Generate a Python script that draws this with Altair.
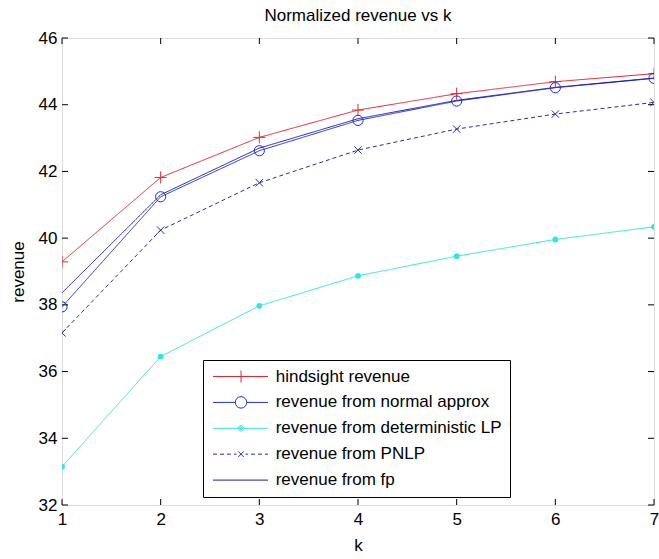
import altair as alt
import pandas as pd

# k values and revenue series
k_values = [1, 2, 3, 4, 5, 6, 7]
hindsight = [39.29, 41.82, 43.02, 43.84, 44.33, 44.69, 44.93]
normal_approx = [37.94, 41.24, 42.62, 43.53, 44.11, 44.51, 44.79]
deterministic_lp = [33.15, 36.45, 37.97, 38.87, 39.46, 39.96, 40.34]
pnlp = [37.16, 40.24, 41.66, 42.64, 43.27, 43.72, 44.07]
fp = [38.36, 41.30, 42.70, 43.58, 44.13, 44.52, 44.80]

series_names = [
    "hindsight revenue",
    "revenue from normal approx",
    "revenue from deterministic LP",
    "revenue from PNLP",
    "revenue from fp",
]
series_values = [hindsight, normal_approx, deterministic_lp, pnlp, fp]
series_colors = ["#e2262e", "#1f2fd0", "#2ee6e6", "#2b2ba0", "#1a1ab0"]
series_dashes = [[1, 0], [1, 0], [1, 0], [4, 3], [1, 0]]

k_ticks = [1, 2, 3, 4, 5, 6, 7]
revenue_ticks = [32, 34, 36, 38, 40, 42, 44, 46]

W, H = 592, 467
FONT = "Liberation Sans"
FS = 17

rows = []
for name, vals in zip(series_names, series_values):
    for k, v in zip(k_values, vals):
        rows.append({"k": k, "revenue": v, "series": name})
df = pd.DataFrame(rows)

x_scale = alt.Scale(domain=[1, 7], nice=False, zero=False)
y_scale = alt.Scale(domain=[32, 46], nice=False, zero=False)

x_axis = alt.Axis(
    values=k_ticks, ticks=False, tickSize=0, domain=False, grid=False,
    labelFont=FONT, labelFontSize=FS, labelColor="black", labelPadding=6,
    labelFlush=False, labelOverlap=False,
    title="k", titleFont=FONT, titleFontSize=FS, titleFontWeight="normal",
    titleColor="black", titleY=45, titleBaseline="alphabetic",
)
y_axis = alt.Axis(
    values=revenue_ticks, ticks=False, tickSize=0, domain=False, grid=False,
    labelFont=FONT, labelFontSize=FS, labelColor="black", labelPadding=5,
    labelFlush=False, labelOverlap=False,
    title="revenue", titleFont=FONT, titleFontSize=FS, titleFontWeight="normal",
    titleColor="black", titleX=-39, titleY=H / 2, titleAngle=-90,
    titleBaseline="alphabetic", titleAlign="center",
)
x_enc = alt.X("k:Q", scale=x_scale, axis=x_axis)
y_enc = alt.Y("revenue:Q", scale=y_scale, axis=y_axis)

color_scale = alt.Scale(domain=series_names, range=series_colors)

base = alt.Chart(df)

lines = base.mark_line(strokeWidth=1, clip=True).encode(
    x=x_enc,
    y=y_enc,
    color=alt.Color("series:N", scale=color_scale, legend=None),
    strokeDash=alt.StrokeDash(
        "series:N", scale=alt.Scale(domain=series_names, range=series_dashes), legend=None
    ),
)

# plot markers: plus, open circle, small x
marker_series = [series_names[0], series_names[1], series_names[3]]
marker_paths = [
    "M-1,0H1M0,-1V1",
    "M-0.85,0A0.85,0.85 0 1,1 0.85,0A0.85,0.85 0 1,1 -0.85,0",
    "M-0.62,-0.62L0.62,0.62M-0.62,0.62L0.62,-0.62",
]
markers = base.transform_filter(
    alt.FieldOneOfPredicate(field="series", oneOf=marker_series)
).mark_point(filled=False, size=144, strokeWidth=1, opacity=1, clip=True).encode(
    x=x_enc,
    y=y_enc,
    color=alt.Color("series:N", scale=color_scale, legend=None),
    shape=alt.Shape(
        "series:N", scale=alt.Scale(domain=marker_series, range=marker_paths), legend=None
    ),
)

dots = base.transform_filter(
    alt.datum.series == series_names[2]
).mark_circle(size=34, opacity=1, color=series_colors[2], clip=True).encode(
    x=x_enc, y=y_enc
)

# legend entries: line segment with marker, drawn as symbol paths
legend_paths = [
    "M-5.6,0H5.4M0,-1.2V1.2",
    "M-5.6,0H-1.15M1.15,0H5.4M-1.15,0A1.15,1.15 0 1,1 1.15,0A1.15,1.15 0 1,1 -1.15,0",
    "M-5.6,0H5.4M-0.55,0A0.55,0.55 0 1,1 0.55,0A0.55,0.55 0 1,1 -0.55,0"
    "M-0.28,0A0.28,0.28 0 1,1 0.28,0A0.28,0.28 0 1,1 -0.28,0",
    "M-5.6,0H-4.8M-4.2,0H-3.4M-2.8,0H-2.0M-1.4,0H-0.9M-0.55,-0.55L0.55,0.55"
    "M-0.55,0.55L0.55,-0.55M0.9,0H1.4M2.0,0H2.8M3.4,0H4.2M4.8,0H5.4",
    "M-5.6,0H5.4",
]
legend_df = pd.DataFrame({"label": series_names, "k": [1] * 5, "revenue": [32] * 5})
legend_props = dict(
    title=None,
    orient="none",
    legendX=141,
    legendY=322,
    padding=8,
    strokeColor="black",
    fillColor="white",
    symbolSize=100,
    symbolStrokeWidth=1,
    symbolOpacity=1,
    symbolOffset=21.5,
    labelOffset=26.2,
    rowPadding=7.9,
    labelFont=FONT,
    labelFontSize=FS,
    labelColor="black",
    labelLimit=400,
    cornerRadius=0,
)
legend_layer = alt.Chart(legend_df).mark_point(filled=False, opacity=0).encode(
    x=x_enc,
    y=y_enc,
    color=alt.Color(
        "label:N",
        scale=alt.Scale(domain=series_names, range=series_colors),
        legend=alt.Legend(**legend_props),
    ),
    shape=alt.Shape(
        "label:N",
        scale=alt.Scale(domain=series_names, range=legend_paths),
        legend=alt.Legend(**legend_props),
    ),
)

# inward tick marks on all four sides of the box
kt = alt.Chart(pd.DataFrame({"k": k_ticks}))
rt = alt.Chart(pd.DataFrame({"revenue": revenue_ticks}))
tick_style = dict(color="black", strokeWidth=1)
x_bottom = kt.mark_rule(**tick_style).encode(
    x=x_enc, y=alt.value(H), y2=alt.value(H - 6)
)
x_top = kt.mark_rule(**tick_style).encode(
    x=x_enc, y=alt.value(0), y2=alt.value(6)
)
y_left = rt.mark_rule(**tick_style).encode(
    y=y_enc, x=alt.value(0), x2=alt.value(6)
)
y_right = rt.mark_rule(**tick_style).encode(
    y=y_enc, x=alt.value(W), x2=alt.value(W - 6)
)

chart = alt.layer(
    lines, markers, dots, x_bottom, x_top, y_left, y_right, legend_layer
).resolve_scale(
    color="independent", shape="independent", strokeDash="independent"
).properties(
    width=W,
    height=H,
    autosize=alt.AutoSizeParams(type="none"),
    padding={"left": 62, "top": 38, "right": 5, "bottom": 54},
    title=alt.Title(
        "Normalized revenue vs k",
        font=FONT, fontSize=FS, fontWeight="normal", color="black", offset=4,
    ),
).configure_view(
    stroke="black", strokeWidth=1
).configure(background="white")

chart.save("out.html", embed_options={"renderer": "svg", "actions": False})
